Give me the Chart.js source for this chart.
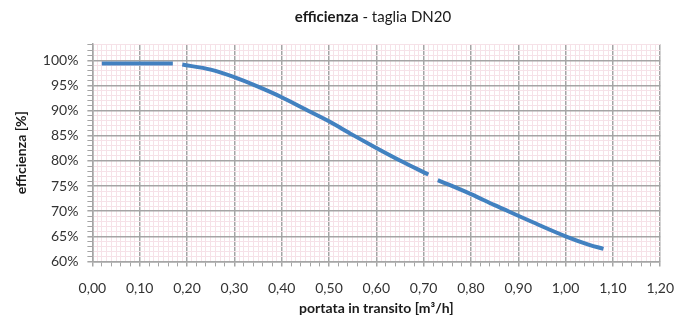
<!DOCTYPE html>
<html lang="it">
<head>
<meta charset="UTF-8">
<title>efficienza - taglia DN20</title>
<script src="https://cdn.jsdelivr.net/npm/chart.js"></script>
<style>
  body { margin: 0; background: #fff; }
  .wrap { position: relative; width: 688px; height: 318px; }
  .titolo { position: absolute; left: 86px; width: 574px; top: 7px; text-align: center;
            font-family: Lato, "Open Sans", sans-serif; font-size: 15px; color: #1a1a1a; }
</style>
</head>
<body>
<div class="wrap">
  <div class="titolo"><b>efficienza</b> - taglia DN20</div>
  <canvas id="grafico" width="688" height="318"></canvas>
</div>
<script>
// dati (portata m3/h, efficienza %), null = interruzione della linea
const portata    = [0.02, 0.17, 0.18, 0.19, 0.25, 0.30, 0.35, 0.40, 0.45, 0.50, 0.55, 0.60, 0.65, 0.71, 0.72, 0.73, 0.80, 0.85, 0.90, 0.95, 1.00, 1.05, 1.08];
const efficienza = [99.4, 99.4, null, 99.2, 98.2, 96.7, 94.8, 92.7, 90.3, 87.9, 85.2, 82.6, 80.1, 77.3, null, 76.2, 73.4, 71.2, 69.1, 67.0, 65.0, 63.3, 62.5];

const xMin = 0, xMax = 1.2, xStep = 0.01;
const yMin = 60, yMax = 103.3, yStep = 1;

const font = { family: 'Lato, "Open Sans", sans-serif', size: 14 };
const grigio = '#a5a5a5';
const rosa = '#f6e2e8';

const punti = portata.map((x, i) => ({ x: x, y: efficienza[i] }));

function isMajorY(v) {
  return Math.abs(v - Math.round(v)) < 1e-6 && Math.round(v) % 5 === 0;
}

new Chart(document.getElementById('grafico'), {
  type: 'line',
  data: {
    datasets: [{
      data: punti,
      borderColor: '#4281c0',
      borderWidth: 4,
      pointRadius: 0,
      cubicInterpolationMode: 'monotone',
      spanGaps: false
    }]
  },
  options: {
    responsive: false,
    animation: false,
    layout: { padding: { top: 44, right: 26, left: 9, bottom: 0 } },
    plugins: { legend: { display: false }, tooltip: { enabled: false } },
    scales: {
      x: {
        type: 'linear', min: xMin, max: xMax,
        ticks: {
          stepSize: xStep, autoSkip: false, maxRotation: 0, padding: 14,
          color: '#333', font: font,
          callback: (v, i) => i % 10 === 0 ? v.toFixed(2).replace('.', ',') : ''
        },
        grid: {
          color: c => c.index % 10 === 0 ? grigio : rosa,
          lineWidth: c => c.index % 10 === 0 ? 1.5 : 1,
          tickColor: c => c.index % 2 === 0 ? grigio : 'rgba(0,0,0,0)',
          tickLength: 5
        },
        border: { color: grigio, width: 1.5 },
        title: { display: true, text: 'portata in transito [m³/h]', color: '#1a1a1a',
                 font: { family: font.family, size: 14, weight: 'bold' }, padding: { top: -11, bottom: 1 } }
      },
      y: {
        min: yMin, max: yMax,
        ticks: {
          stepSize: yStep, autoSkip: false, padding: 9,
          color: '#333', font: font,
          callback: v => isMajorY(v) ? Math.round(v) + '%' : ''
        },
        grid: {
          color: c => isMajorY(c.tick.value) ? grigio : rosa,
          lineWidth: c => isMajorY(c.tick.value) ? 1.5 : 1,
          tickColor: grigio,
          tickLength: 5
        },
        border: { color: grigio, width: 1.5 },
        title: { display: true, text: 'efficienza [%]', color: '#1a1a1a',
                 font: { family: font.family, size: 14, weight: 'bold' }, padding: 4 }
      }
    }
  }
});
</script>
</body>
</html>
